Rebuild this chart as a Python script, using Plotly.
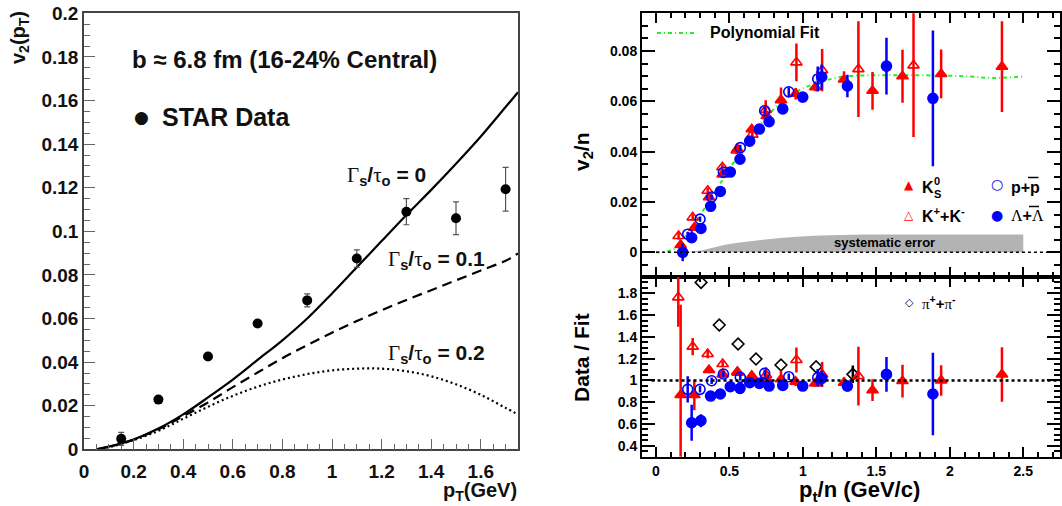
import plotly.graph_objects as go

W, H = 1062, 506

# ---------------- Left panel: hydro v2(pT) vs STAR ----------------
star_pt = [0.15, 0.3, 0.5, 0.7, 0.9, 1.1, 1.3, 1.5, 1.7]
star_v2 = [0.0048, 0.0228, 0.0426, 0.0577, 0.0683, 0.0875, 0.1090, 0.1060, 0.1193]
star_err = [0.003, 0.0, 0.0, 0.0, 0.003, 0.004, 0.006, 0.0075, 0.010]

hydro_pt = [0.05, 0.1, 0.2, 0.3, 0.4, 0.5, 0.6, 0.7, 0.8, 0.9, 1.0, 1.1, 1.2, 1.3,
            1.4, 1.5, 1.6, 1.7, 1.75]
v2_gamma0 = [0.0, 0.0012, 0.0045, 0.0095, 0.016, 0.0238, 0.032, 0.041, 0.050, 0.060,
             0.0715, 0.0835, 0.0955, 0.1075, 0.119, 0.131, 0.1435, 0.157, 0.1638]
v2_gamma01 = [0.0, 0.0011, 0.0044, 0.0092, 0.0152, 0.0215, 0.0285, 0.0352, 0.0418, 0.0478,
              0.0535, 0.0588, 0.0638, 0.0685, 0.073, 0.0775, 0.082, 0.0865, 0.0898]
v2_gamma02 = [0.0, 0.001, 0.0042, 0.0085, 0.014, 0.0195, 0.0245, 0.0287, 0.032, 0.0345,
              0.0362, 0.037, 0.037, 0.0358, 0.0335, 0.0298, 0.025, 0.019, 0.016]

left_xticks = [0, 0.2, 0.4, 0.6, 0.8, 1.0, 1.2, 1.4, 1.6]
left_xtext = ["0", "0.2", "0.4", "0.6", "0.8", "1", "1.2", "1.4", "1.6"]
left_yticks = [0, 0.02, 0.04, 0.06, 0.08, 0.1, 0.12, 0.14, 0.16, 0.18, 0.2]
left_ytext = ["0", "0.02", "0.04", "0.06", "0.08", "0.1", "0.12", "0.14", "0.16", "0.18", "0.2"]

# ---------------- Right panel: v2/n vs pt/n ----------------
ks_x = [0.168, 0.261, 0.361, 0.454, 0.554, 0.652, 0.754, 0.851, 0.951, 1.085, 1.28, 1.474,
        1.678, 1.941, 2.355]
ks_v2 = [0.0029, 0.0098, 0.0219, 0.031, 0.041, 0.0489, 0.0542, 0.0605, 0.063, 0.0656, 0.0687,
         0.0642, 0.070, 0.0709, 0.0738]
ks_err = [0.002, 0.0012, 0.0012, 0.0012, 0.0014, 0.0014, 0.0015, 0.005, 0.0023, 0.0016, 0.0033,
          0.0075, 0.0105, 0.0097, 0.018]
ks_ratio = [0.866, 0.866, 1.095, 1.055, 1.08, 1.043, 1.01, 1.01, 0.988, 0.973, 0.979, 0.91,
            0.994, 1.0, 1.055]
ks_ratio_err = [0.83, 0.14, 0.03, 0.03, 0.03, 0.03, 0.03, 0.08, 0.04, 0.03, 0.05, 0.1, 0.15,
                0.14, 0.25]

kk_x = [0.154, 0.25, 0.352, 0.452, 0.55, 0.656, 0.747, 0.956, 1.131, 1.378, 1.753]
kk_v2 = [0.0065, 0.0139, 0.0245, 0.0338, 0.0405, 0.0468, 0.0566, 0.0755, 0.0724, 0.0728, 0.0743]
kk_err = [0.0015, 0.0012, 0.0012, 0.0012, 0.0015, 0.0015, 0.0038, 0.0075, 0.0084, 0.019, 0.0285]
kk_ratio_x = [0.152, 0.25, 0.352, 0.454, 0.556, 0.656, 0.749, 0.956, 1.131, 1.378]
kk_ratio = [1.763, 1.31, 1.243, 1.15, 1.07, 1.03, 1.05, 1.187, 1.055, 1.04]
kk_ratio_err = [0.27, 0.08, 0.04, 0.03, 0.03, 0.03, 0.07, 0.115, 0.115, 0.27]

pp_x = [0.216, 0.300, 0.379, 0.459, 0.574, 0.740, 0.904, 1.101]
pp_v2 = [0.0072, 0.0132, 0.022, 0.0318, 0.0416, 0.0563, 0.0638, 0.0689]
pp_err = [0.001, 0.001, 0.001, 0.001, 0.0012, 0.0015, 0.0018, 0.005]
pp_ratio = [0.918, 0.918, 0.997, 1.059, 1.028, 1.065, 1.034, 1.025]
pp_ratio_err = [0.12, 0.03, 0.03, 0.03, 0.03, 0.03, 0.03, 0.08]

lam_x = [0.182, 0.243, 0.306, 0.372, 0.438, 0.506, 0.572, 0.638, 0.704, 0.770, 0.863, 0.999,
         1.128, 1.303, 1.569, 1.885]
lam_v2 = [0.0, 0.0058, 0.0095, 0.0183, 0.0242, 0.0319, 0.037, 0.0442, 0.049, 0.0519, 0.057,
          0.0617, 0.0697, 0.0661, 0.074, 0.0612]
lam_err = [0.0035, 0.001, 0.001, 0.001, 0.001, 0.001, 0.001, 0.001, 0.001, 0.0012, 0.0012,
           0.0016, 0.005, 0.0045, 0.0113, 0.027]
lam_ratio_x = [0.243, 0.306, 0.372, 0.438, 0.506, 0.572, 0.638, 0.704, 0.770, 0.863, 0.999,
               1.128, 1.303, 1.569, 1.885]
lam_ratio = [0.611, 0.63, 0.856, 0.875, 0.942, 0.927, 0.979, 0.973, 0.948, 0.954, 0.948, 1.019,
             0.948, 1.055, 0.875]
lam_ratio_err = [0.165, 0.06, 0.03, 0.03, 0.03, 0.03, 0.03, 0.03, 0.03, 0.03, 0.03, 0.07, 0.05,
                 0.16, 0.38]

pi_x = [0.307, 0.431, 0.559, 0.681, 0.851, 1.09, 1.34]
pi_ratio = [1.9, 1.509, 1.334, 1.197, 1.142, 1.126, 1.056]
pi_ratio_err = [0, 0, 0, 0, 0, 0, 0.08]

fit_x = [0.0, 0.05, 0.1, 0.15, 0.2, 0.25, 0.3, 0.35, 0.4, 0.45, 0.5, 0.55, 0.6, 0.65, 0.7, 0.75,
         0.8, 0.85, 0.9, 0.95, 1.0, 1.1, 1.2, 1.3, 1.5, 1.7, 1.9, 2.1, 2.3, 2.5]
fit_y = [0.0, 0.0001, 0.0008, 0.0024, 0.0064, 0.0103, 0.0146, 0.0194, 0.0238, 0.0285, 0.0332,
         0.0375, 0.0416, 0.0458, 0.0499, 0.0535, 0.0568, 0.0597, 0.0617, 0.0636, 0.0652, 0.0673,
         0.0690, 0.0700, 0.0704, 0.0704, 0.0703, 0.0700, 0.0693, 0.0699]

sys_x = [0.0, 0.15, 0.28, 0.5, 0.73, 0.96, 1.19, 1.5, 2.0, 2.5]
sys_top = [0.0, 0.0001, 0.0005, 0.0033, 0.0050, 0.0062, 0.0068, 0.0071, 0.0071, 0.0071]

right_xticks = [0, 0.5, 1, 1.5, 2, 2.5]
right_xtext = ["0", "0.5", "1", "1.5", "2", "2.5"]
top_yticks = [0, 0.02, 0.04, 0.06, 0.08]
top_ytext = ["0", "0.02", "0.04", "0.06", "0.08"]
bot_yticks = [0.4, 0.6, 0.8, 1.0, 1.2, 1.4, 1.6, 1.8]
bot_ytext = ["0.4", "0.6", "0.8", "1", "1.2", "1.4", "1.6", "1.8"]

RED = "#ff0000"
BLUE = "#0000ff"
GREEN = "#22f022"
SANS = "Liberation Sans"
SERIF = "Liberation Serif"

fig = go.Figure()

# ---- left traces ----
fig.add_trace(go.Scatter(x=hydro_pt, y=v2_gamma0, mode="lines",
                         line=dict(color="black", width=2.2, shape="spline"), xaxis="x", yaxis="y"))
fig.add_trace(go.Scatter(x=hydro_pt, y=v2_gamma01, mode="lines",
                         line=dict(color="black", width=2.2, dash="10px,6px", shape="spline"),
                         xaxis="x", yaxis="y"))
fig.add_trace(go.Scatter(x=hydro_pt, y=v2_gamma02, mode="lines",
                         line=dict(color="black", width=2.2, dash="2px,3px", shape="spline"),
                         xaxis="x", yaxis="y"))
fig.add_trace(go.Scatter(x=star_pt, y=star_v2, mode="markers",
                         marker=dict(color="black", size=10, symbol="circle"),
                         error_y=dict(type="data", array=star_err, visible=True, color="#555",
                                      thickness=1.2, width=3),
                         xaxis="x", yaxis="y"))

# ---- right top traces ----
fig.add_trace(go.Scatter(x=sys_x, y=sys_top, mode="lines", fill="tozeroy",
                         fillcolor="#b3b3b3", line=dict(width=0, color="#b3b3b3", shape="spline"),
                         xaxis="x2", yaxis="y2"))
fig.add_trace(go.Scatter(x=fit_x, y=fit_y, mode="lines",
                         line=dict(color=GREEN, width=2, dash="4px,3px,1px,3px", shape="spline"),
                         xaxis="x2", yaxis="y2"))


def pts(x, y, err, symbol, color, ax, yx, size=10):
    return go.Scatter(x=x, y=y, mode="markers",
                      marker=dict(symbol=symbol, color=color, size=size,
                                  line=dict(color=color, width=1.6)),
                      error_y=dict(type="data", array=err, visible=True, color=color,
                                   thickness=2.5, width=0),
                      xaxis=ax, yaxis=yx)


fig.add_trace(pts(kk_x, kk_v2, kk_err, "triangle-up-open", RED, "x2", "y2"))
fig.add_trace(pts(ks_x, ks_v2, ks_err, "triangle-up", RED, "x2", "y2"))
fig.add_trace(pts(pp_x, pp_v2, pp_err, "circle-open", BLUE, "x2", "y2"))
fig.add_trace(pts(lam_x, lam_v2, lam_err, "circle", BLUE, "x2", "y2"))

# ---- right bottom traces ----
fig.add_trace(pts(pi_x, pi_ratio, pi_ratio_err, "diamond-open", "black", "x3", "y3", size=9))
fig.add_trace(pts(kk_ratio_x, kk_ratio, kk_ratio_err, "triangle-up-open", RED, "x3", "y3"))
fig.add_trace(pts(ks_x, ks_ratio, ks_ratio_err, "triangle-up", RED, "x3", "y3"))
fig.add_trace(pts(pp_x, pp_ratio, pp_ratio_err, "circle-open", BLUE, "x3", "y3"))
fig.add_trace(pts(lam_ratio_x, lam_ratio, lam_ratio_err, "circle", BLUE, "x3", "y3"))

# ---- axes ----
left_common = dict(showline=True, linewidth=1.5, linecolor="#444", mirror=True,
                   ticks="inside", tickcolor="#666", tickwidth=1.3, ticklen=11,
                   showgrid=False, zeroline=False, automargin=False,
                   tickfont=dict(family=SANS, size=19, color="#111", weight="bold"))
right_common = dict(showline=True, linewidth=2, linecolor="black", mirror="ticks",
                    ticks="inside", tickcolor="black", tickwidth=2,
                    showgrid=False, zeroline=False, automargin=False,
                    tickfont=dict(family=SANS, size=14, color="black", weight="bold"))

fig.update_layout(
    xaxis=dict(domain=[84 / W, 518 / W], range=[0, 1.75], anchor="y",
               tickmode="array", tickvals=left_xticks, ticktext=left_xtext,
               minor=dict(tickmode="linear", tick0=0, dtick=0.05, ticklen=6, ticks="inside",
                          tickcolor="#666", tickwidth=1.2),
               ticklabelstandoff=4, **left_common),
    yaxis=dict(domain=[1 - 449.3 / H, 1 - 13.3 / H], range=[0, 0.2], anchor="x",
               tickmode="array", tickvals=left_yticks, ticktext=left_ytext,
               minor=dict(tickmode="linear", tick0=0, dtick=0.005, ticklen=6, ticks="inside",
                          tickcolor="#666", tickwidth=1.2),
               **left_common),
    xaxis2=dict(domain=[642 / W, 1060 / W], range=[-0.095, 2.75], anchor="y2",
                tickmode="array", tickvals=right_xticks, ticktext=right_xtext,
                showticklabels=False, ticklen=10,
                minor=dict(tickmode="linear", tick0=0, dtick=0.1, ticklen=5, ticks="inside",
                           tickcolor="black", tickwidth=2),
                **right_common),
    yaxis2=dict(domain=[1 - 277 / H, 1 - 13.3 / H], range=[-0.0098, 0.095], anchor="x2",
                tickmode="array", tickvals=top_yticks, ticktext=top_ytext, ticklen=13,
                minor=dict(tickmode="linear", tick0=0, dtick=0.005, ticklen=6, ticks="inside",
                           tickcolor="black", tickwidth=2),
                **right_common),
    xaxis3=dict(domain=[642 / W, 1060 / W], range=[-0.095, 2.75], anchor="y3",
                tickmode="array", tickvals=right_xticks, ticktext=right_xtext, ticklen=10,
                minor=dict(tickmode="linear", tick0=0, dtick=0.1, ticklen=5, ticks="inside",
                           tickcolor="black", tickwidth=2),
                **right_common),
    yaxis3=dict(domain=[1 - 456.7 / H, 1 - 277 / H], range=[0.299, 1.95], anchor="x3",
                tickmode="array", tickvals=bot_yticks, ticktext=bot_ytext, ticklen=13,
                minor=dict(tickmode="linear", tick0=0, dtick=0.05, ticklen=6, ticks="inside",
                           tickcolor="black", tickwidth=2),
                **right_common),
)


def px(x):
    return x / W


def py(y):
    return 1 - y / H


def ann(text, x, y, size, xanchor="center", yanchor="middle", color="black", family=SANS,
        weight="bold", angle=0):
    return dict(text=text, x=px(x), y=py(y), xref="paper", yref="paper", showarrow=False,
                xanchor=xanchor, yanchor=yanchor, textangle=angle,
                font=dict(family=family, size=size, color=color, weight=weight))


SER = '<span style="font-family:Liberation Serif;font-weight:normal">'
gam = SER + "Γ</span><sub>s</sub>/" + SER + "τ</span><sub>o</sub>"

annotations = [
    # left panel
    ann("b ≈ 6.8 fm (16-24% Central)", 284, 60, 24, color="#111"),
    ann("●", 141, 117, 17, family="DejaVu Sans", color="#111", weight="normal"),
    ann("STAR Data", 160, 117, 25, xanchor="left", color="#111"),
    ann(gam + " = 0", 345, 176, 21, xanchor="left", color="#111"),
    ann(gam + " = 0.1", 386, 260, 21, xanchor="left", color="#111"),
    ann(gam + " = 0.2", 386, 354, 21, xanchor="left", color="#111"),
    ann("v<sub>2</sub>(p<sub>T</sub>)", 19, 38, 20, angle=-90, color="#111"),
    ann("p<sub>T</sub>(GeV)", 519, 506, 20, xanchor="right", yanchor="bottom", color="#111"),
    # right panel
    ann("Polynomial Fit", 708, 33, 16, xanchor="left"),
    ann("systematic error", 884, 242, 13),
    ann("▲", 909, 185, 12, family="DejaVu Sans", color=RED, weight="normal"),
    ann("K", 920, 187, 16, xanchor="left"),
    ann("0", 932, 181, 11, xanchor="left"),
    ann("S", 932, 194, 11, xanchor="left"),
    ann("○", 997, 184, 14, family="DejaVu Sans", color=BLUE, weight="normal"),
    ann("p+p", 1009, 187, 16, xanchor="left"),
    ann("△", 909, 215, 12, family="DejaVu Sans", color=RED, weight="normal"),
    ann("K<sup>+</sup>+K<sup>-</sup>", 920, 215, 16, xanchor="left"),
    ann("●", 997, 215, 14, family="DejaVu Sans", color=BLUE, weight="normal"),
    ann(SER + "Λ</span>+" + SER + "Λ</span>", 1009, 215, 16, xanchor="left"),
    ann("◇", 909, 302, 11, family="DejaVu Sans", weight="normal"),
    ann(SER + "π</span><sup>+</sup>+" + SER + "π</span><sup>-</sup>", 920, 302, 15,
        xanchor="left"),
    ann("v<sub>2</sub>/n", 583, 152, 21, angle=-90),
    ann("Data / Fit", 581, 358, 21, angle=-90),
    ann("p<sub>t</sub>/n (GeV/c)", 859, 491, 22),
]

shapes = [
    # reference lines
    dict(type="line", xref="x2", yref="y2", x0=0, x1=2.75, y0=0, y1=0,
         line=dict(color="black", width=1.5, dash="3px,3px")),
    dict(type="line", xref="x3", yref="y3", x0=-0.03, x1=2.75, y0=1, y1=1,
         line=dict(color="black", width=2.5, dash="3px,3px")),
    # legend line for polynomial fit
    dict(type="line", xref="paper", yref="paper", x0=px(657), x1=px(697), y0=py(33), y1=py(33),
         line=dict(color=GREEN, width=2, dash="4px,3px,1px,3px")),
    # overlines for anti-particles
    dict(type="line", xref="paper", yref="paper", x0=px(1028), x1=px(1038.5), y0=py(177.5),
         y1=py(177.5), line=dict(color="black", width=1.5)),
    dict(type="line", xref="paper", yref="paper", x0=px(1029), x1=px(1039), y0=py(206.5),
         y1=py(206.5), line=dict(color="black", width=1.5)),
]

fig.update_layout(
    width=W, height=H, margin=dict(l=0, r=0, t=0, b=0, autoexpand=False),
    paper_bgcolor="white", plot_bgcolor="white", showlegend=False,
    annotations=annotations, shapes=shapes,
)

fig.write_html("out.html")
